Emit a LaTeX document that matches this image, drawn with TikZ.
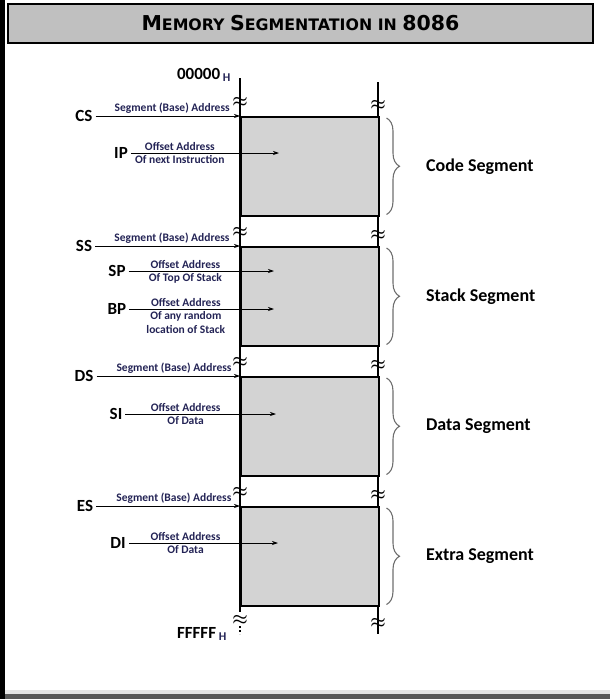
\documentclass[tikz,border=0pt]{standalone}
\usepackage{fontspec}
\setmainfont{Carlito}
\newfontfamily\titlefont{DejaVu Sans}
\usetikzlibrary{positioning,decorations.pathreplacing,arrows.meta}
\definecolor{titlegrey}{RGB}{192,192,192}
\definecolor{seggrey}{RGB}{211,211,211}
\definecolor{lblblue}{RGB}{35,35,85}
\definecolor{bracegrey}{RGB}{110,110,110}
\newcommand{\bigc}[1]{{\fontsize{20.5}{20.5}\selectfont #1}}
\begin{document}
\begin{tikzpicture}[x=1pt,y=-1pt,
    reg/.style={font=\bfseries\fontsize{17}{17}\selectfont,inner sep=3pt},
    lbl/.style={font=\bfseries\fontsize{11.5}{14}\selectfont,text=lblblue,align=center,inner sep=2.5pt},
    ptr/.style={-{Stealth[length=6pt,width=4pt]},line width=0.7pt},
    seg/.style={draw=black,line width=1.5pt,fill=seggrey,minimum width=138pt,minimum height=99pt,anchor=north west,inner sep=0pt},
    brk/.style={inner sep=0pt,font=\boldmath\fontsize{19}{19}\selectfont},
    segtxt/.style={font=\bfseries\fontsize{18}{18}\selectfont,anchor=west,inner sep=0pt},
    brc/.style={decorate,decoration={brace,amplitude=13pt},draw=bracegrey,line width=1.1pt}]
\useasboundingbox (0,0) rectangle (610,699);
\fill[black] (0,0) rectangle (5,699);
\fill[gray!20] (5,690) rectangle (610,694);
\fill[gray!70!black] (5,694) rectangle (610,699);
\node[draw=black,line width=1.5pt,fill=titlegrey,minimum width=585pt,minimum height=39pt] (title) at (300.5,23.5)
  {\titlefont\bfseries\fontsize{15.8}{15.8}\selectfont \bigc{M}EMORY \bigc{S}EGMENTATION IN \bigc{8086}};
% memory lines
\draw[line width=1.5pt] (240,78) -- (240,612);
\draw[line width=1.5pt,dash pattern=on 2pt off 2pt] (240,626) -- (240,634);
\draw[line width=1.5pt] (378,82) -- (378,634);
\foreach \y in {102,232,362,492,620} {
  \node[brk] (bl\y) at (240,\y) {$\approx$};
  \node[brk] (br\y) at (378,\y+3) {$\approx$};
}
\foreach \t/\nm [count=\i] in {116/Code,246/Stack,376/Data,506/Extra} {
  \node[seg] (box\i) at (240,\t) {};
  \draw[brc] ([xshift=7pt,yshift=-2pt]box\i.north east) -- ([xshift=7pt,yshift=2pt]box\i.south east)
    node[midway,xshift=39pt,segtxt] {\nm\ Segment};
}
\node[reg] (start) at (204,75) {00000\,\textsubscript{\color{lblblue}H}};
\node[reg] (end) at (202,634) {FFFFF\,\textsubscript{\color{lblblue}H}};
% segment registers
\node[reg] (cs) at (84,116) {CS};
\node[reg] (ss) at (84,246) {SS};
\node[reg] (ds) at (84,376) {DS};
\node[reg] (es) at (85,506) {ES};
\draw[ptr] (cs) -- (box1.north west) node[pos=.53,above,lbl] {Segment (Base) Address};
\draw[ptr] (ss) -- (box2.north west) node[pos=.53,above,lbl] {Segment (Base) Address};
\draw[ptr] (ds) -- (box3.north west) node[pos=.54,above,lbl] {Segment (Base) Address};
\draw[ptr] (es) -- (box4.north west) node[pos=.54,above,lbl] {Segment (Base) Address};
% offset registers
\node[reg] (ip) at (121,153) {IP};
\node[reg] (sp) at (117,271) {SP};
\node[reg] (bp) at (117,309) {BP};
\node[reg] (si) at (116,414) {SI};
\node[reg] (di) at (118,543) {DI};
\coordinate (ipend) at (279,153);
\coordinate (spend) at (274,271);
\coordinate (bpend) at (274,309);
\coordinate (siend) at (276,414);
\coordinate (diend) at (278,543);
\draw[ptr] (ip) -- (ipend) node[pos=.33,above,lbl] {Offset Address} node[pos=.33,below,lbl] {Of next Instruction};
\draw[ptr] (sp) -- (spend) node[pos=.39,above,lbl] {Offset Address} node[pos=.39,below,lbl] {Of Top Of Stack};
\draw[ptr] (bp) -- (bpend) node[pos=.39,above,lbl] {Offset Address} node[pos=.39,below,lbl] {Of any random\\location of Stack};
\draw[ptr] (si) -- (siend) node[pos=.40,above,lbl] {Offset Address} node[pos=.40,below,lbl] {Of Data};
\draw[ptr] (di) -- (diend) node[pos=.38,above,lbl] {Offset Address} node[pos=.38,below,lbl] {Of Data};
\end{tikzpicture}
\end{document}
